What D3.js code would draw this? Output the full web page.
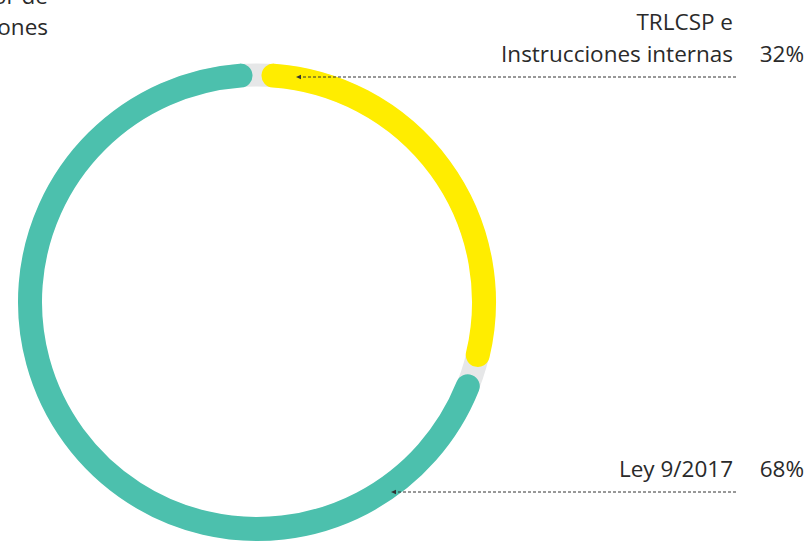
<!DOCTYPE html>
<html>
<head>
<meta charset="utf-8">
<script src="https://cdn.jsdelivr.net/npm/d3@7"></script>
<style>
  body { margin: 0; background: #fff; }
  svg { display: block; font-family: "Open Sans", sans-serif; }
</style>
</head>
<body>
<div id="chart"></div>
<script>
// data
let categories = ["TRLCSP e|Instrucciones internas", "Ley 9/2017"];
let percentLabels = ["32%", "68%"];
// share of the ring each arc covers
let ringShare = [29.9, 70.1];
let colors = ["#ffed00", "#4cc0ad"];
let titleLines = ["Valor de", "licitaciones"];

let width = 811, height = 543;
let cx = 257, cy = 302;
let radius = 227, ringWidth = 24;
let gapPx = 16.5;
let fontSize = 22.5;

let svg = d3.select("#chart")
            .append("svg")
            .attr("width", width)
            .attr("height", height);

let defs = svg.append("defs");
defs.append("marker")
    .attr("id", "arrow")
    .attr("viewBox", "0 0 6 6")
    .attr("refX", 5)
    .attr("refY", 3)
    .attr("markerWidth", 6)
    .attr("markerHeight", 6)
    .attr("orient", "auto")
    .append("path")
    .attr("d", "M0,0.8L5,3L0,5.2Z")
    .attr("fill", "#333");

let g = svg.append("g").attr("transform", "translate(" + cx + "," + cy + ")");

// gray track
g.append("circle")
  .attr("r", radius)
  .attr("fill", "none")
  .attr("stroke", "#e6e7e8")
  .attr("stroke-width", ringWidth - 1);

let pie = d3.pie().sort(null).value(d => d);
let slices = pie(ringShare);
let pad = gapPx / radius;

let arcPath = function(d){
  let p = d3.path();
  let a0 = d.startAngle + pad - Math.PI / 2;
  let a1 = d.endAngle - pad - Math.PI / 2;
  p.arc(0, 0, radius, a0, a1);
  return p.toString();
};

g.selectAll("path.slice")
  .data(slices)
  .enter()
  .append("path")
  .attr("class", "slice")
  .attr("d", arcPath)
  .attr("fill", "none")
  .attr("stroke", (d, i) => colors[i])
  .attr("stroke-width", ringWidth)
  .attr("stroke-linecap", "round");

// labels
let labelRight = 733, pctX = 804;
let leaderY = [77, 492];
let labelBase = [62, 477];
let tipX = [296, 391];

categories.forEach(function(c, i){
  let lines = c.split("|");
  let t = svg.append("text")
    .attr("text-anchor", "end")
    .attr("font-size", fontSize)
    .attr("fill", "#2a2a2a");
  lines.forEach(function(l, j){
    t.append("tspan")
      .attr("x", labelRight)
      .attr("y", labelBase[i] - (lines.length - 1 - j) * 32)
      .text(l);
  });
  svg.append("text")
    .attr("x", pctX)
    .attr("y", labelBase[i])
    .attr("text-anchor", "end")
    .attr("font-size", fontSize)
    .attr("fill", "#2a2a2a")
    .text(percentLabels[i]);
  svg.append("line")
    .attr("x1", labelRight + 3)
    .attr("x2", tipX[i])
    .attr("y1", leaderY[i])
    .attr("y2", leaderY[i])
    .attr("stroke", "#333")
    .attr("stroke-width", 1)
    .attr("stroke-dasharray", "3,2")
    .attr("marker-end", "url(#arrow)");
});

// cut-off title
let title = svg.append("text")
  .attr("text-anchor", "end")
  .attr("font-size", fontSize)
  .attr("fill", "#2a2a2a");
titleLines.forEach(function(l, j){
  title.append("tspan").attr("x", 48).attr("y", 4 + j * 31).text(l);
});
</script>
</body>
</html>
